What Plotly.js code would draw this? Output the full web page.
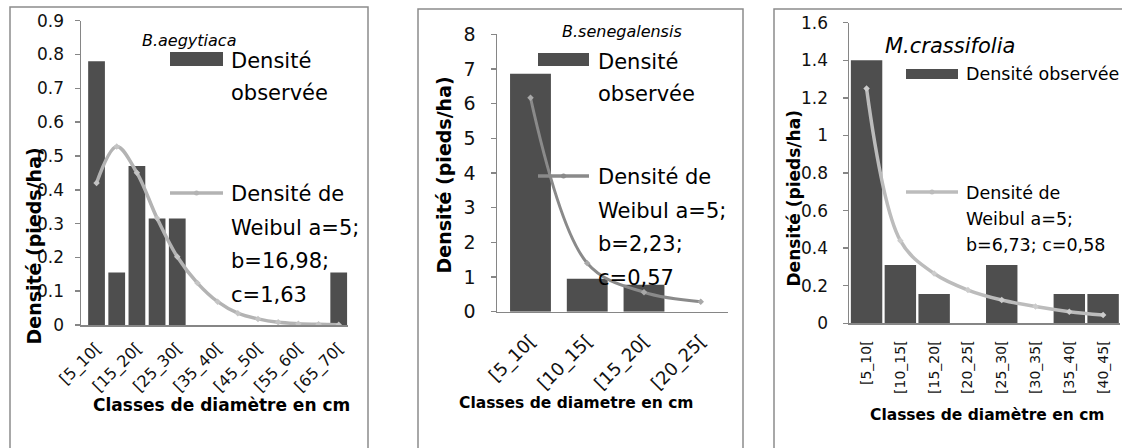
<!DOCTYPE html>
<html>
<head>
<meta charset="utf-8">
<script src="https://cdn.plot.ly/plotly-3.0.1.min.js"></script>
<style>html,body{margin:0;padding:0;background:#fff;}#chart{width:1122px;height:448px;}</style>
</head>
<body>
<div id="chart"></div>
<script>
// ---------- data ----------
const cats1 = ['[5_10[','[10_15[','[15_20[','[20_25[','[25_30[','[30_35[','[35_40[','[40_45[','[45_50[','[50_55[','[55_60[','[60_65[','[65_70['];
const obs1  = [0.78, 0.155, 0.47, 0.315, 0.315, 0, 0, 0, 0, 0, 0, 0, 0.155];
const weib1 = [0.42, 0.528, 0.45, 0.316, 0.202, 0.124, 0.069, 0.035, 0.018, 0.008, 0.004, 0.002, 0.001];
const ticks1 = ['[5_10[','[15_20[','[25_30[','[35_40[','[45_50[','[55_60[','[65_70['];

const cats2 = ['[5_10[','[10_15[','[15_20[','[20_25['];
const obs2  = [6.86, 0.95, 0.78, 0];
const weib2 = [6.17, 1.4, 0.56, 0.29];

const cats3 = ['[5_10[','[10_15[','[15_20[','[20_25[','[25_30[','[30_35[','[35_40[','[40_45['];
const obs3  = [1.40, 0.31, 0.156, 0, 0.31, 0, 0.156, 0.156];
const weib3 = [1.25, 0.44, 0.265, 0.177, 0.124, 0.089, 0.062, 0.044];

const species = ['B.aegytiaca', 'B.senegalensis', 'M.crassifolia'];
const obsName = 'Densité observée';
const weibLines1 = ['Densité de', 'Weibul a=5;', 'b=16,98;', 'c=1,63'];
const weibLines2 = ['Densité de', 'Weibul a=5;', 'b=2,23;', 'c=0,57'];
const weibLines3 = ['Densité de', 'Weibul a=5;', 'b=6,73; c=0,58'];
const yTitle = 'Densité (pieds/ha)';
const xTitles = ['Classes de diamètre en cm', 'Classes de diametre en cm', 'Classes de diamètre en cm'];

// ---------- helpers ----------
const W = 1122, H = 448;
const px = x => x / W;
const py = y => 1 - y / H;
const FONT = 'DejaVu Sans, sans-serif';
const BAR = '#4e4e4e';
const AX = '#868686';

const traces = [
  {type:'bar', x:cats1, y:obs1, xaxis:'x', yaxis:'y', width:0.83, marker:{color:BAR}, name:obsName},
  {type:'scatter', mode:'lines+markers', x:cats1, y:weib1, xaxis:'x', yaxis:'y',
   line:{color:'#b3b3b3', width:3.5, shape:'spline', smoothing:1}, marker:{color:'#c4c4c4', size:5, symbol:'diamond'}, name:'Weibull'},
  {type:'bar', x:cats2, y:obs2, xaxis:'x2', yaxis:'y2', width:0.72, marker:{color:BAR}, name:obsName},
  {type:'scatter', mode:'lines+markers', x:cats2, y:weib2, xaxis:'x2', yaxis:'y2',
   line:{color:'#8a8a8a', width:3, shape:'spline', smoothing:1}, marker:{color:'#a8a8a8', size:5, symbol:'diamond'}, name:'Weibull'},
  {type:'bar', x:cats3, y:obs3, xaxis:'x3', yaxis:'y3', width:0.93, marker:{color:BAR}, name:obsName},
  {type:'scatter', mode:'lines+markers', x:cats3, y:weib3, xaxis:'x3', yaxis:'y3',
   line:{color:'#bcbcbc', width:3.5, shape:'spline', smoothing:1}, marker:{color:'#cccccc', size:5, symbol:'diamond'}, name:'Weibull'}
];

function xax(dom, range, angle, size, vals, standoff){
  const a = {domain:[px(dom[0]), px(dom[1])], range:range, type:'category', showline:true, linecolor:AX, linewidth:1.5,
    ticks:'', showgrid:false, zeroline:false, tickangle:angle, tickfont:{family:FONT, size:size, color:'#111'},
    ticklabelstandoff:standoff, fixedrange:true};
  if (vals) { a.tickmode='array'; a.tickvals=vals; a.ticktext=vals; }
  return a;
}
function yax(dom, range, dtick, size, anchor, standoff){
  return {domain:[py(dom[1]), py(dom[0])], range:range, dtick:dtick, showline:true, linecolor:AX, linewidth:1.5,
    ticks:'outside', ticklen:5, tickcolor:AX, tickwidth:1.5, showgrid:false, zeroline:false, anchor:anchor,
    tickfont:{family:FONT, size:size, color:'#111'}, ticklabelstandoff:standoff, fixedrange:true};
}

const layout = {
  width:W, height:H, margin:{l:0, r:0, t:0, b:0}, showlegend:false,
  paper_bgcolor:'#fff', plot_bgcolor:'rgba(0,0,0,0)',
  xaxis:  xax([81, 348], [-0.77, 12.46], -45, 16, ticks1, 6),
  yaxis:  yax([20.7, 325], [0, 0.9], 0.1, 17, 'x', 7),
  xaxis2: xax([497, 728], [-0.59, 3.48], -45, 18, null, 10),
  yaxis2: yax([34.3, 311.7], [0, 8], 1, 19, 'x2', 11),
  xaxis3: xax([849, 1120], [-0.52, 7.5], -90, 14, null, 10),
  yaxis3: yax([22.7, 323.3], [0, 1.6], 0.2, 17, 'x3', 11),
  shapes: [], annotations: []
};
layout.xaxis2.anchor = 'y2'; layout.xaxis3.anchor = 'y3'; layout.xaxis.anchor = 'y';

// panel borders
[[10, 368, 7], [418, 743, 9], [774, 1140, 9]].forEach(b => {
  layout.shapes.push({type:'rect', xref:'paper', yref:'paper', x0:px(b[0]), x1:px(b[1]), y0:py(b[2]), y1:py(470),
    line:{color:'#8c8c8c', width:1.5}, fillcolor:'rgba(0,0,0,0)', layer:'below'});
});

function txt(t, x, y, size, opts){
  layout.annotations.push(Object.assign({text:t, xref:'paper', yref:'paper', x:px(x), y:py(y), showarrow:false,
    xanchor:'left', yanchor:'middle', font:{family:FONT, size:size, color:'#000'}}, opts||{}));
}
function legend(sp, spX, spY, spSize, sw, barY, obsLines, lineY, weibLines, lineStep, tx, fs, lineColor){
  txt(sp, spX, spY, spSize, {xanchor:'center', font:{family:FONT, size:spSize, color:'#000', style:'italic'}});
  layout.shapes.push({type:'rect', xref:'paper', yref:'paper', x0:px(sw[0]), x1:px(sw[1]), y0:py(barY[1]), y1:py(barY[0]),
    fillcolor:BAR, line:{width:0}});
  obsLines.forEach((l, i) => txt(l, tx, barY[2] + i*32, fs));
  layout.shapes.push({type:'line', xref:'paper', yref:'paper', x0:px(sw[0]), x1:px(sw[1]), y0:py(lineY), y1:py(lineY),
    line:{color:lineColor, width:3.5}});
  layout.shapes.push({type:'circle', xref:'paper', yref:'paper', x0:px((sw[0]+sw[1])/2-2.5), x1:px((sw[0]+sw[1])/2+2.5),
    y0:py(lineY+2.5), y1:py(lineY-2.5), fillcolor:lineColor, line:{width:0}});
  weibLines.forEach((l, i) => txt(l, tx, lineY + 1 + i*lineStep, fs));
}

legend(species[0], 189, 40, 16, [170, 223], [52, 66, 61], ['Densité', 'observée'], 193, weibLines1, 33.5, 229, 21, '#b3b3b3');
legend(species[1], 622, 32, 16, [538, 589], [53, 66, 62], ['Densité', 'observée'], 176, weibLines2, 33.5, 596, 21, '#8a8a8a');
legend(species[2], 950, 46, 21, [906, 958], [69, 79, 74], [obsName], 192, weibLines3, 26, 964, 17.5, '#bcbcbc');

// axis titles
const B = s => '<b>' + s + '</b>';
txt(B(xTitles[0]), 221.5, 405, 17, {xanchor:'center'});
txt(B(yTitle), 33, 246.5, 19, {xanchor:'center', textangle:-90});
txt(B(xTitles[1]), 576.5, 403, 15.5, {xanchor:'center'});
txt(B(yTitle), 443, 175.5, 19, {xanchor:'center', textangle:-90});
txt(B(xTitles[2]), 987, 415, 15.5, {xanchor:'center'});
txt(B(yTitle), 793, 198.5, 17, {xanchor:'center', textangle:-90});

Plotly.newPlot('chart', traces, layout, {staticPlot:true, displayModeBar:false});
</script>
</body>
</html>
